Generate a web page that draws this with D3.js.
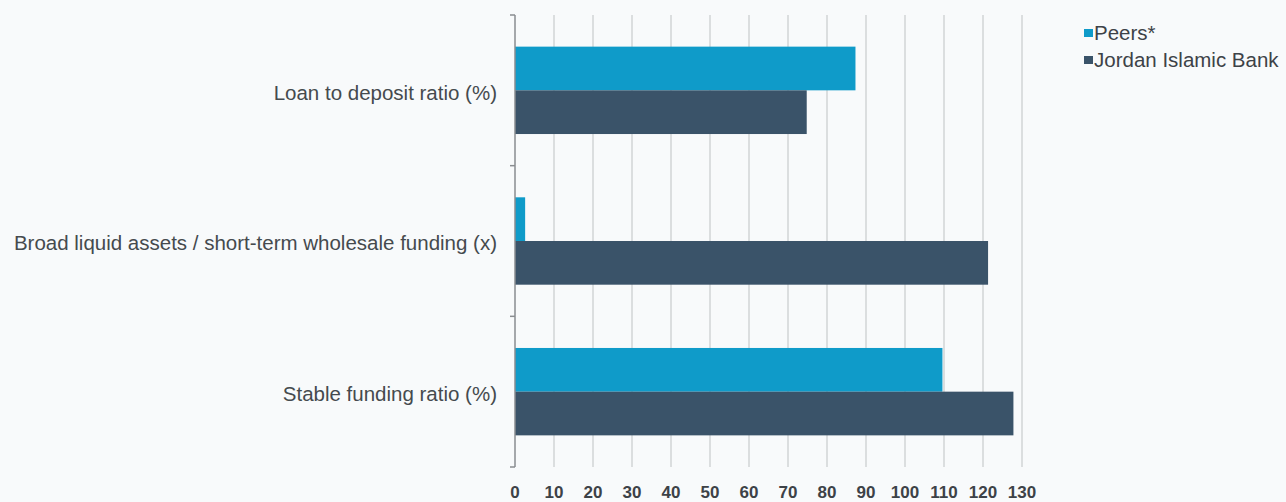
<!DOCTYPE html>
<html>
<head>
<meta charset="utf-8">
<script src="https://cdnjs.cloudflare.com/ajax/libs/d3/7.8.5/d3.min.js"></script>
<style>
  body { margin: 0; background: #f8fafb; }
  svg { display: block; font-family: 'Liberation Sans', Arial, sans-serif; }
</style>
</head>
<body>
<div id="chart"></div>
<script>
const categories = [
  'Loan to deposit ratio (%)',
  'Broad liquid assets / short-term wholesale funding (x)',
  'Stable funding ratio (%)'
]
const seriesNames = ['Peers*', 'Jordan Islamic Bank']
const peers = [87.3, 2.6, 109.6]
const jib = [74.8, 121.3, 127.8]
const xTicks = [0, 10, 20, 30, 40, 50, 60, 70, 80, 90, 100, 110, 120, 130]

const colors = ['#0f9bc9', '#3a5369']

const fullWidth = 1286
const fullHeight = 502
const margin = { top: 15, left: 515, right: 264, bottom: 35 }
const width = fullWidth - margin.left - margin.right
const height = fullHeight - margin.top - margin.bottom

const svg = d3
  .select('#chart')
  .append('svg')
  .attr('width', fullWidth)
  .attr('height', fullHeight)

const g = svg
  .append('g')
  .attr('transform', 'translate(' + margin.left + ',' + margin.top + ')')

const xPositionScale = d3.scaleLinear().domain([0, 130]).range([0, 507])

const yPositionScale = d3
  .scaleBand()
  .domain(categories)
  .range([0, height])
  .paddingInner(0.42)
  .paddingOuter(0.21)

const subScale = d3
  .scaleBand()
  .domain(seriesNames)
  .range([0, yPositionScale.bandwidth()])

// gridlines
g.selectAll('.grid')
  .data(xTicks.slice(1))
  .enter()
  .append('line')
  .attr('class', 'grid')
  .attr('x1', d => xPositionScale(d))
  .attr('x2', d => xPositionScale(d))
  .attr('y1', 0)
  .attr('y2', height)
  .attr('stroke', '#d2d4d6')
  .attr('stroke-width', 1.5)

const rows = categories.map((c, i) => ({ cat: c, values: [peers[i], jib[i]] }))

const group = g
  .selectAll('.row')
  .data(rows)
  .enter()
  .append('g')
  .attr('class', 'row')
  .attr('transform', d => 'translate(0,' + yPositionScale(d.cat) + ')')

group
  .selectAll('rect')
  .data(d => d.values.map((v, i) => ({ name: seriesNames[i], value: v })))
  .enter()
  .append('rect')
  .attr('x', 0)
  .attr('y', d => subScale(d.name))
  .attr('width', d => xPositionScale(d.value))
  .attr('height', subScale.bandwidth())
  .attr('fill', (d, i) => colors[i])

// left axis with ticks between categories
const step = yPositionScale.step()
const boundaries = d3.range(categories.length + 1).map(i => i * step)
g.append('line')
  .attr('x1', 0)
  .attr('x2', 0)
  .attr('y1', 0)
  .attr('y2', height)
  .attr('stroke', '#8a8d90')
  .attr('stroke-width', 1.5)
g.selectAll('.ytick')
  .data(boundaries)
  .enter()
  .append('line')
  .attr('x1', -5)
  .attr('x2', 0)
  .attr('y1', d => d)
  .attr('y2', d => d)
  .attr('stroke', '#8a8d90')
  .attr('stroke-width', 1.5)

g.selectAll('.ylabel')
  .data(categories)
  .enter()
  .append('text')
  .attr('x', -18)
  .attr('y', d => yPositionScale(d) + yPositionScale.bandwidth() / 2 + 2)
  .attr('dy', '0.35em')
  .attr('text-anchor', 'end')
  .attr('font-size', 20.5)
  .attr('fill', '#454a4e')
  .text(d => d)

// bottom tick labels
g.selectAll('.xlabel')
  .data(xTicks)
  .enter()
  .append('text')
  .attr('x', d => xPositionScale(d))
  .attr('y', height + 25)
  .attr('dy', '0.35em')
  .attr('text-anchor', 'middle')
  .attr('font-size', 17)
  .attr('font-weight', 'bold')
  .attr('fill', '#3d4247')
  .text(d => d)

// legend
const legend = svg
  .selectAll('.legend')
  .data(seriesNames)
  .enter()
  .append('g')
  .attr('transform', (d, i) => 'translate(1084,' + (33 + i * 27) + ')')

legend
  .append('rect')
  .attr('x', 0)
  .attr('y', -4)
  .attr('width', 9)
  .attr('height', 8)
  .attr('fill', (d, i) => colors[i])

legend
  .append('text')
  .attr('x', 10)
  .attr('y', 0)
  .attr('dy', '0.35em')
  .attr('font-size', 20.5)
  .attr('fill', '#3d4247')
  .text(d => d)
</script>
</body>
</html>
